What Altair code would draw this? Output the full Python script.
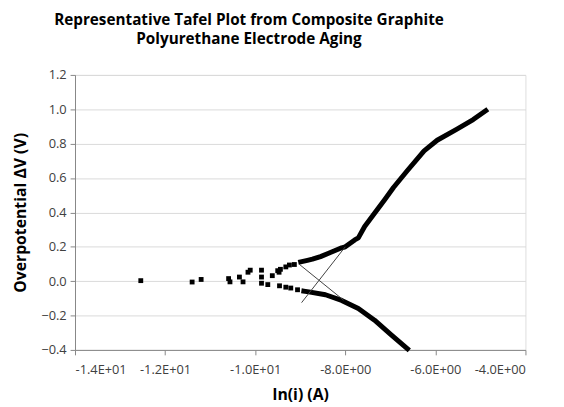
import altair as alt
import pandas as pd

# Sparse individual markers
scatter_x = [-12.54, -11.40, -11.20, -10.59, -10.56, -10.35, -10.27, -10.16, -10.11,
             -9.86, -9.86, -9.86, -9.72, -9.62, -9.50, -9.47, -9.44, -9.32, -9.24, -9.13,
             -9.46, -9.32, -9.21, -9.06]
scatter_y = [0.003, -0.005, 0.010, 0.015, -0.004, 0.024, -0.004, 0.052, 0.064,
             0.064, 0.024, -0.012, -0.020, 0.032, 0.061, 0.052, 0.069, 0.083, 0.094, 0.097,
             -0.027, -0.035, -0.040, -0.050]

# Dense anodic branch (overlapping markers)
upper_x = [-8.99, -8.84, -8.73, -8.55, -8.37, -8.08, -8.00, -7.79, -7.71, -7.57, -7.35,
           -7.13, -6.93, -6.62, -6.25, -5.96, -5.53, -5.16, -4.88]
upper_y = [0.112, 0.121, 0.128, 0.143, 0.162, 0.194, 0.200, 0.240, 0.252, 0.318, 0.395,
           0.472, 0.545, 0.644, 0.758, 0.820, 0.883, 0.940, 0.992]

# Dense cathodic branch
lower_x = [-8.92, -8.81, -8.44, -8.08, -7.71, -7.35, -6.98, -6.62]
lower_y = [-0.058, -0.062, -0.079, -0.112, -0.159, -0.227, -0.312, -0.393]

# Tafel extrapolation lines
tafel1_x = [-9.03, -8.04]
tafel1_y = [0.10, -0.11]
tafel2_x = [-8.97, -8.00]
tafel2_y = [-0.125, 0.20]

x_ticks = [-14, -12, -10, -8, -6, -4]
x_tick_labels = ["-1.4E+01", "-1.2E+01", "-1.0E+01", "-8.0E+00", "-6.0E+00", "-4.0E+00"]
y_ticks = [-0.4, -0.2, 0.0, 0.2, 0.4, 0.6, 0.8, 1.0, 1.2]

pts = pd.DataFrame({"x": scatter_x, "y": scatter_y})
curves = pd.DataFrame({
    "x": upper_x + lower_x,
    "y": upper_y + lower_y,
    "s": ["up"] * len(upper_x) + ["low"] * len(lower_x),
    "o": list(range(len(upper_x))) + list(range(len(lower_x))),
})
tafel = pd.DataFrame({
    "x": tafel1_x + tafel2_x,
    "y": tafel1_y + tafel2_y,
    "s": ["t1", "t1", "t2", "t2"],
})

label_array = "[" + ",".join("'%s'" % l for l in x_tick_labels) + "]"
label_expr = label_array + "[round((datum.value - (%d)) / 2)]" % x_ticks[0]

FONT = "Open Sans"
xs = alt.Scale(domain=[-14, -4], nice=False, zero=False)
ys = alt.Scale(domain=[-0.4, 1.2], nice=False, zero=False)

x_axis = alt.Axis(values=x_ticks, labelExpr=label_expr, grid=False, labelOverlap=False,
                  domainColor="#868686", tickColor="#868686", tickSize=5,
                  labelFontSize=13, labelColor="#404040", labelPadding=9,
                  titleFontSize=16, titleFontWeight="bold", titleColor="#000000",
                  titlePadding=10, labelFont=FONT, titleFont=FONT)
y_axis = alt.Axis(values=y_ticks, format=".1f", grid=True, gridColor="#d9d9d9",
                  labelOverlap=False, tickCount=9,
                  domainColor="#868686", tickColor="#868686", tickSize=5,
                  labelFontSize=13, labelColor="#404040", labelPadding=4,
                  titleFontSize=16, titleFontWeight="bold", titleColor="#000000",
                  titlePadding=13, labelFont=FONT, titleFont=FONT)


def xe():
    return alt.X("x:Q", scale=xs, title="ln(i) (A)", axis=x_axis)


def ye():
    return alt.Y("y:Q", scale=ys, title="Overpotential ΔV (V)", axis=y_axis)


scatter = alt.Chart(pts).mark_point(shape="square", filled=True, color="#000000",
                                    size=24, opacity=1).encode(x=xe(), y=ye())
lines = alt.Chart(curves).mark_line(color="#000000", strokeWidth=5, strokeCap="square",
                                    strokeJoin="round").encode(
    x=xe(), y=ye(), detail="s:N", order="o:Q")
tafel_lines = alt.Chart(tafel).mark_line(color="#404040", strokeWidth=1).encode(
    x=xe(), y=ye(), detail="s:N")

chart = alt.layer(scatter, lines, tafel_lines).properties(
    width=457, height=279,
    title=alt.TitleParams(
        text=["Representative Tafel Plot from Composite Graphite",
              "Polyurethane Electrode Aging"],
        font=FONT, fontSize=15.5, fontWeight="bold", color="#000000",
        anchor="middle", dx=-52, offset=22, lineHeight=19),
    autosize=alt.AutoSizeParams(type="none"),
    padding={"left": 68, "top": 65, "right": 31, "bottom": 54},
).configure_view(stroke="#bfbfbf", strokeWidth=1).configure(background="#ffffff")

chart.save("out.html", embed_options={"renderer": "svg", "actions": False})
